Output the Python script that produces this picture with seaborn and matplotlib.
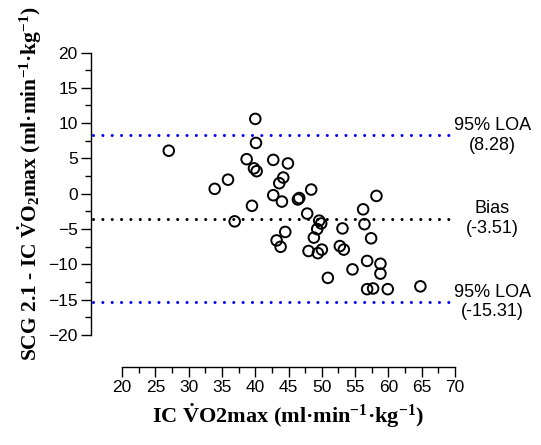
import matplotlib
matplotlib.use("Agg")
import matplotlib.pyplot as plt
import seaborn as sns
import pandas as pd

# IC VO2max (x) and SCG 2.1 - IC difference (y)
ic_vo2max = [27.0, 40.0, 40.1, 38.7, 42.7, 44.9, 39.8, 40.2, 35.9, 33.9,
             44.2, 43.6, 48.4, 42.7, 44.0, 46.6, 46.4, 39.5, 36.9, 47.8,
             49.6, 49.9, 49.3, 48.8, 44.5, 43.2, 43.8, 48.0, 49.4, 50.0,
             50.9, 53.1, 52.7, 53.3, 54.6, 56.2, 56.4, 57.4, 58.2, 56.8,
             58.8, 58.8, 56.8, 57.7, 59.9, 64.8]
diff = [6.1, 10.6, 7.2, 4.9, 4.8, 4.3, 3.6, 3.2, 2.0, 0.7,
        2.3, 1.5, 0.6, -0.2, -1.1, -0.6, -0.8, -1.7, -3.9, -2.8,
        -3.8, -4.2, -5.0, -6.2, -5.4, -6.6, -7.5, -8.1, -8.4, -7.9,
        -11.9, -4.9, -7.4, -7.9, -10.7, -2.2, -4.3, -6.3, -0.3, -9.5,
        -9.9, -11.3, -13.5, -13.4, -13.5, -13.1]

bias = -3.51
loa_upper = 8.28
loa_lower = -15.31

df = pd.DataFrame({"ic": ic_vo2max, "diff": diff})

sns.set_style("ticks")
plt.rcParams['font.family'] = ['Liberation Sans', 'DejaVu Sans']
plt.rcParams['text.color'] = 'black'
plt.rcParams['axes.labelcolor'] = 'black'
plt.rcParams['xtick.color'] = 'black'
plt.rcParams['ytick.color'] = 'black'
plt.rcParams['mathtext.fontset'] = 'custom'
plt.rcParams['mathtext.rm'] = 'Liberation Serif:bold'
plt.rcParams['mathtext.it'] = 'Liberation Serif:bold'
plt.rcParams['mathtext.bf'] = 'Liberation Serif:bold'

fig = plt.figure(figsize=(5.41, 4.45), dpi=100)
ax = fig.add_axes([0.168, 0.247, 0.673, 0.635])

sns.scatterplot(data=df, x="ic", y="diff", ax=ax, marker="o", s=58,
                facecolor="none", edgecolor="black", linewidth=1.4, zorder=3)

dot = (0, (0.01, 3.05))
for yv, col in [(loa_upper, "#0000ff"), (bias, "black"), (loa_lower, "#0000ff")]:
    ax.plot([15.6, 70], [yv, yv], color=col, lw=2.2, linestyle=dot,
            dash_capstyle="round", zorder=2)

ann_size = 13
ax.text(75.6, loa_upper, "95% LOA\n(8.28)", ha="center", va="center",
        fontsize=ann_size, multialignment="center")
ax.text(75.6, bias, "Bias\n(-3.51)", ha="center", va="center",
        fontsize=ann_size, multialignment="center")
ax.text(75.6, loa_lower, "95% LOA\n(-15.31)", ha="center", va="center",
        fontsize=ann_size, multialignment="center")

ax.set_xlim(15.3, 70)
ax.set_ylim(-20, 20)
ax.set_xticks(range(20, 71, 5))
ax.set_xticks([x + 2.5 for x in range(20, 70, 5)], minor=True)
ax.set_yticks(range(-20, 21, 5))
ax.set_yticks([y + 2.5 for y in range(-20, 20, 5)], minor=True)

sns.despine(ax=ax)
ax.spines['bottom'].set_position(('outward', 23))
ax.spines['bottom'].set_bounds(20, 70)
ax.spines['left'].set_bounds(-20, 20)
for s in ['bottom', 'left']:
    ax.spines[s].set_linewidth(1.0)
    ax.spines[s].set_color('black')

ax.tick_params(which='major', length=7, width=1.0, labelsize=12.5, color='black',
               pad=2.5)
ax.tick_params(which='minor', length=4, width=1.0, color='black')

ax.set_xlabel("IC $\\dot{\\mathrm{V}}$O2max (ml·min$^{-1}$·kg$^{-1}$)",
              fontfamily="Liberation Serif", fontweight="bold", fontsize=16)
ax.set_ylabel("SCG 2.1 - IC $\\dot{\\mathrm{V}}$O$_2$max (ml·min$^{-1}$·kg$^{-1}$)",
              fontfamily="Liberation Serif", fontweight="bold", fontsize=15.5)
ax.xaxis.set_label_coords(0.541, -0.235)
ax.yaxis.set_label_coords(-0.128, 0.535)

fig.savefig("out.png", dpi=100)
